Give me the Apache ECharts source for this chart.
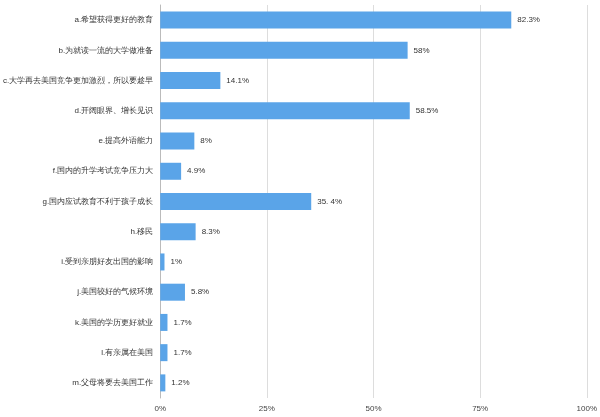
<!DOCTYPE html><html><head><meta charset="utf-8"><script src="https://cdn.jsdelivr.net/npm/echarts@6/dist/echarts.min.js"></script></head><body style="margin:0;background:#fff"><div id="c" style="width:600px;height:417px"></div><script>
const categories=['a.希望获得更好的教育','b.为就读一流的大学做准备','c.大学再去美国竞争更加激烈，所以要趁早','d.开阔眼界、增长见识','e.提高外语能力','f.国内的升学考试竞争压力大','g.国内应试教育不利于孩子成长','h.移民','i.受到亲朋好友出国的影响','j.美国较好的气候环境','k.美国的学历更好就业','l.有亲属在美国','m.父母将要去美国工作'];
const values=[82.3,58,14.1,58.5,8,4.9,35.4,8.3,1,5.8,1.7,1.7,1.2];
const valueLabels=['82.3%','58%','14.1%','58.5%','8%','4.9%','35. 4%','8.3%','1%','5.8%','1.7%','1.7%','1.2%'];
const ticks=['0%','25%','50%','75%','100%'];
const ch=echarts.init(document.getElementById('c'));
ch.setOption({animation:false,grid:{left:157,right:13,top:5,bottom:19,containLabel:false},
xAxis:{type:'value',min:0,max:100,interval:25,axisLine:{show:false},axisTick:{show:false},
axisLabel:{formatter:v=>ticks[v/25],fontSize:8,color:'#444',margin:7},splitLine:{lineStyle:{color:'#ddd',width:1}}},
yAxis:{type:'category',inverse:true,data:categories,axisLine:{lineStyle:{color:'#bbb'}},axisTick:{lineStyle:{color:'#bbb'},length:4},
axisLabel:{fontSize:8,color:'#333',margin:7}},
series:[{type:'bar',data:values,barWidth:17,itemStyle:{color:'#5aa4e8'},label:{show:true,position:'right',fontSize:8,color:'#333',distance:6,formatter:p=>valueLabels[p.dataIndex]}}]});
</script></body></html>
